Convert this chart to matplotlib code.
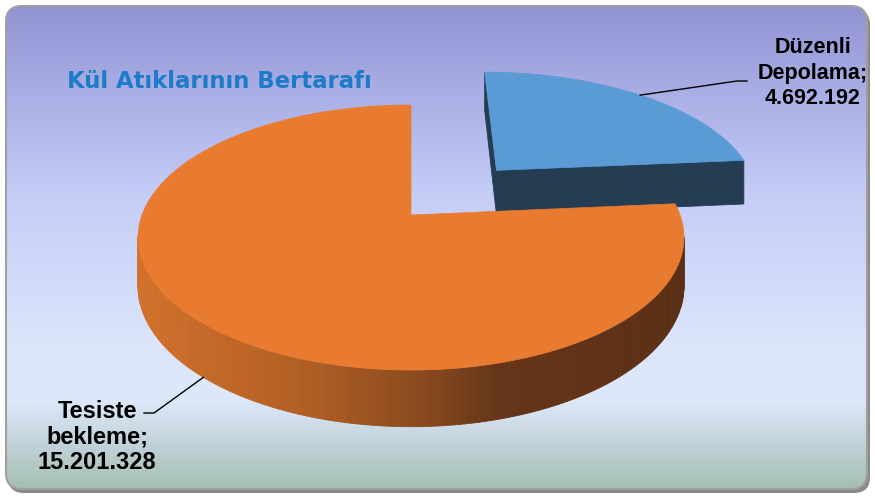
import numpy as np
import matplotlib
matplotlib.use('Agg')
import matplotlib.pyplot as plt
from matplotlib.patches import Polygon, FancyBboxPatch
from matplotlib.collections import PolyCollection
from matplotlib.colors import LinearSegmentedColormap

#------------------------------------------------------------
# D A T A
#------------------------------------------------------------
categories = ['Düzenli\nDepolama', 'Tesiste\nbekleme']
values     = [4692192, 15201328]
title      = 'Kül Atıklarının Bertarafı'

#------------------------------------------------------------
# S T Y L E   /   G E O M E T R Y   (pixel-like units, y down)
#------------------------------------------------------------
W, H       = 875, 498
CX, CY     = 411, 215       # projected pie centre
RX, RY     = 269, 128.7     # disc radius on screen
PERSP      = 0.17           # fake perspective strength
DEPTH      = 47             # thickness of the pie
explode    = [0.50, 0.0]
top_col    = ['#5b9bd5', '#e97b31']
side_col   = ['#243d53', None]
label_pos  = [(813, 73), (97, 437)]
label_size = [15.5, 17]
label_ls   = [1.27, 1.13]
elbow      = [((737, 81), (747, 81)), ((154, 413), (144, 413))]

side_cmap = LinearSegmentedColormap.from_list('side', [
    (0.00, '#d2712c'), (0.30, '#b25f25'), (0.52, '#8a4a1f'),
    (0.66, '#663519'), (1.00, '#5b2f15')])
bg_cmap = LinearSegmentedColormap.from_list('bg', [
    (0.00, '#9193d2'), (0.15, '#a6aae2'), (0.40, '#c6cef8'),
    (0.70, '#dbe5fb'), (0.82, '#dde8f9'), (0.90, '#c4d4dd'),
    (1.00, '#a5bfb0')])


def project(X, Z):
    s = 1.0 / (1.0 + PERSP * Z)
    return CX + RX * X * s, CY - RY * Z * s, s


def area(pts):
    p = np.asarray(pts)
    x, y = p[:, 0], p[:, 1]
    return 0.5 * np.sum(x * np.roll(y, -1) - np.roll(x, -1) * y)


fig = plt.figure(figsize=(W / 100, H / 100), dpi=100)
ax = fig.add_axes([0, 0, 1, 1])
ax.set_xlim(0, W)
ax.set_ylim(H, 0)
ax.axis('off')

# ----- background frame
shadow = FancyBboxPatch((8, 9), 862, 484, boxstyle='round,pad=0,rounding_size=16',
                        fc='#8a8a8a', ec='none', zorder=0)
ax.add_patch(shadow)
frame = FancyBboxPatch((6, 6), 861, 483, boxstyle='round,pad=0,rounding_size=16',
                       fc='none', ec='#a0a0a0', lw=1.5, zorder=2)
ax.add_patch(frame)
grad = np.linspace(0, 1, 256).reshape(-1, 1)
im = ax.imshow(grad, cmap=bg_cmap, extent=(6, 867, 489, 6), aspect='auto', zorder=1)
im.set_clip_path(frame)

# ----- 3D pie
total = float(sum(values))
angles = np.concatenate([[0], np.cumsum(values) / total * 2 * np.pi])

slices = []
for i in range(len(values)):
    a0, a1 = angles[i], angles[i + 1]
    mid = 0.5 * (a0 + a1)
    ox, oz = explode[i] * np.sin(mid), explode[i] * np.cos(mid)
    slices.append((oz, i, a0, a1, mid, ox))

# farther slices first
slices.sort(key=lambda t: -t[0])

anchors = {}
for oz, i, a0, a1, mid, ox in slices:
    z = 3 + 3 * len(anchors)
    th = np.linspace(a0, a1, 300)
    tx, ty, ts = project(ox + np.sin(th), oz + np.cos(th))
    by = ty + DEPTH * ts
    ax_, ay_, as_ = project(ox, oz)
    aby = ay_ + DEPTH * as_

    # outer side (front facing only)
    quads, cols = [], []
    for k in range(len(th) - 1):
        q = [(tx[k], ty[k]), (tx[k + 1], ty[k + 1]), (tx[k + 1], by[k + 1]), (tx[k], by[k])]
        if area(q) < 0:
            quads.append(q)
            if side_col[i] is None:
                cols.append(side_cmap(np.clip((0.5 * (tx[k] + tx[k + 1]) - 137) / 545, 0, 1)))
            else:
                cols.append(side_col[i])
    if quads:
        ax.add_collection(PolyCollection(quads, facecolors=cols, edgecolors=cols,
                                         linewidths=0.6, zorder=z))

    # radial cut faces
    for k, sign in [(0, -1), (-1, 1)]:
        q = [(ax_, ay_), (tx[k], ty[k]), (tx[k], by[k]), (ax_, aby)]
        if sign * area(q) > 0:
            c = side_col[i] if side_col[i] else side_cmap(0.7)
            ax.add_patch(Polygon(q, closed=True, fc=c, ec=c, lw=0.6, zorder=z + 1))

    # top surface
    top = [(ax_, ay_)] + list(zip(tx, ty))
    ax.add_patch(Polygon(top, closed=True, fc=top_col[i], ec=top_col[i], lw=0.5, zorder=z + 2))

    # leader anchor: top edge for back slices, bottom edge for front ones
    mx, my, ms = project(ox + np.sin(mid), oz + np.cos(mid))
    if np.cos(mid) < 0:
        my = my + DEPTH * ms
    anchors[i] = (mx, my)

# ----- labels and leader lines
for i in range(len(values)):
    txt = categories[i] + ';\n' + f'{values[i]:,}'.replace(',', '.')
    (e1, e2) = elbow[i]
    sx, sy = anchors[i]
    ax.plot([sx, e1[0], e2[0]], [sy, e1[1], e2[1]], color='black', lw=1, zorder=20)
    ax.text(label_pos[i][0], label_pos[i][1], txt, ha='center', va='center',
            multialignment='center', fontsize=label_size[i], fontweight='bold',
            family='Liberation Sans', linespacing=label_ls[i], color='black', zorder=21)

ax.text(67, 88, title, ha='left', va='baseline', fontsize=16.4, fontweight='bold',
        family='DejaVu Sans', color='#1e7bc8', zorder=21)

plt.savefig('out.png', dpi=100)
